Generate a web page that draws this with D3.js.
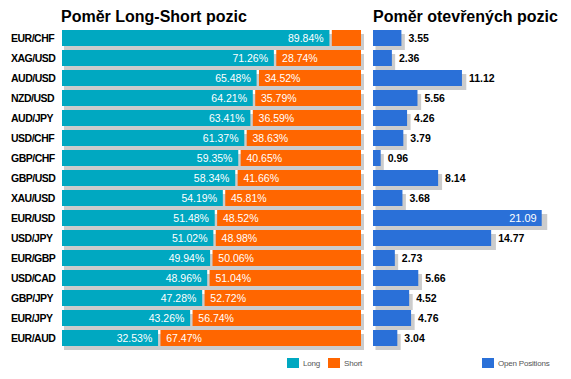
<!DOCTYPE html>
<html>
<head>
<meta charset="utf-8">
<script src="https://cdn.jsdelivr.net/npm/d3@7"></script>
<style>
  html, body { margin: 0; padding: 0; background: #fff; }
  svg { display: block; font-family: "Liberation Sans", Arial, sans-serif; }
</style>
</head>
<body>
<svg id="chart" width="571" height="379"></svg>
<script>
const categories = ["EUR/CHF","XAG/USD","AUD/USD","NZD/USD","AUD/JPY","USD/CHF","GBP/CHF","GBP/USD","XAU/USD","EUR/USD","USD/JPY","EUR/GBP","USD/CAD","GBP/JPY","EUR/JPY","EUR/AUD"];
const longPct = [89.84,71.26,65.48,64.21,63.41,61.37,59.35,58.34,54.19,51.48,51.02,49.94,48.96,47.28,43.26,32.53];
const shortPct = [10.16,28.74,34.52,35.79,36.59,38.63,40.65,41.66,45.81,48.52,48.98,50.06,51.04,52.72,56.74,67.47];
const openPositions = [3.55,2.36,11.12,5.56,4.26,3.79,0.96,8.14,3.68,21.09,14.77,2.73,5.66,4.52,4.76,3.04];
const titles = ["Poměr Long-Short pozic", "Poměr otevřených pozic"];
const legendLabels = ["Long", "Short", "Open Positions"];

const C_LONG = "#00a8c1", C_SHORT = "#ff6600", C_OPEN = "#2a70d8", C_SHADOW = "#cccccc";

const svg = d3.select("#chart");

const y = d3.scaleBand().domain(categories).range([28, 348]).paddingInner(0.2).paddingOuter(0.1);
const xL = d3.scaleLinear().domain([0, 100]).range([62, 361]);
const xR = d3.scaleLinear().domain([0, d3.max(openPositions)]).range([373, 541.7]);

// Titles
svg.append("text").attr("x", 61).attr("y", 22).attr("font-size", 16).attr("font-weight", "bold").attr("fill", "#000").text(titles[0]);
svg.append("text").attr("x", 373).attr("y", 22).attr("font-size", 16).attr("font-weight", "bold").attr("fill", "#000").text(titles[1]);

const data = categories.map((c, i) => ({ c, l: longPct[i], s: shortPct[i], o: openPositions[i] }));

// Category labels
svg.append("g").selectAll("text").data(data).join("text")
  .attr("x", 11).attr("y", d => y(d.c) + 12)
  .attr("font-size", 10.5).attr("font-weight", "bold").attr("letter-spacing", -0.5)
  .attr("fill", "#000").text(d => d.c);

// Left shadows
const bw = y.bandwidth();
svg.append("g").selectAll("rect").data(data).join("rect")
  .attr("x", xL(0) + 2).attr("y", d => y(d.c) + 4)
  .attr("width", xL(100) - xL(0) + 1).attr("height", bw)
  .attr("fill", C_SHADOW);

// Long bars
svg.append("g").selectAll("rect").data(data).join("rect")
  .attr("x", xL(0)).attr("y", d => y(d.c))
  .attr("width", d => xL(d.l) - xL(0) - 1.2).attr("height", bw)
  .attr("fill", C_LONG);
// Short bars
svg.append("g").selectAll("rect").data(data).join("rect")
  .attr("x", d => xL(d.l) + 1.2).attr("y", d => y(d.c))
  .attr("width", d => xL(100) - xL(d.l) - 1.2).attr("height", bw)
  .attr("fill", C_SHORT);

// Long labels
svg.append("g").selectAll("text").data(data.filter(d => d.l >= 15)).join("text")
  .attr("x", d => xL(d.l) - 7).attr("y", d => y(d.c) + 12)
  .attr("text-anchor", "end").attr("font-size", 10.5).attr("fill", "#fff")
  .text(d => d.l.toFixed(2) + "%");
// Short labels
svg.append("g").selectAll("text").data(data.filter(d => d.s >= 15)).join("text")
  .attr("x", d => xL(d.l) + 7).attr("y", d => y(d.c) + 12)
  .attr("font-size", 10.5).attr("fill", "#fff")
  .text(d => d.s.toFixed(2) + "%");

// Right shadows
svg.append("g").selectAll("rect").data(data).join("rect")
  .attr("x", xR(0) + 2.5).attr("y", d => y(d.c) + 4)
  .attr("width", d => (xR(d.o) - xR(0)) * 1.015 + 0.5).attr("height", bw)
  .attr("fill", C_SHADOW);
// Right bars
svg.append("g").selectAll("rect").data(data).join("rect")
  .attr("x", xR(0)).attr("y", d => y(d.c))
  .attr("width", d => xR(d.o) - xR(0)).attr("height", bw)
  .attr("fill", C_OPEN);
// Right labels
svg.append("g").selectAll("text").data(data).join("text")
  .each(function(d) {
    const inside = xR(d.o) + 40 > 565;
    d3.select(this)
      .attr("x", inside ? xR(d.o) - 5 : xR(d.o) + 7)
      .attr("y", y(d.c) + 12)
      .attr("text-anchor", inside ? "end" : "start")
      .attr("font-size", inside ? 11 : 10.5)
      .attr("font-weight", inside ? "normal" : "bold")
      .attr("fill", inside ? "#fff" : "#000")
      .text(d.o.toFixed(2));
  });

// Legend
const legend = [
  { x: 287, color: C_LONG, label: legendLabels[0] },
  { x: 328, color: C_SHORT, label: legendLabels[1] },
  { x: 482, color: C_OPEN, label: legendLabels[2] }
];
const lg = svg.append("g").selectAll("g").data(legend).join("g");
lg.append("rect").attr("x", d => d.x).attr("y", 358).attr("width", 12).attr("height", 10).attr("fill", d => d.color);
lg.append("text").attr("x", d => d.x + 16).attr("y", 366).attr("font-size", 8).attr("letter-spacing", -0.2)
  .attr("fill", "#555").text(d => d.label);
</script>
</body>
</html>
